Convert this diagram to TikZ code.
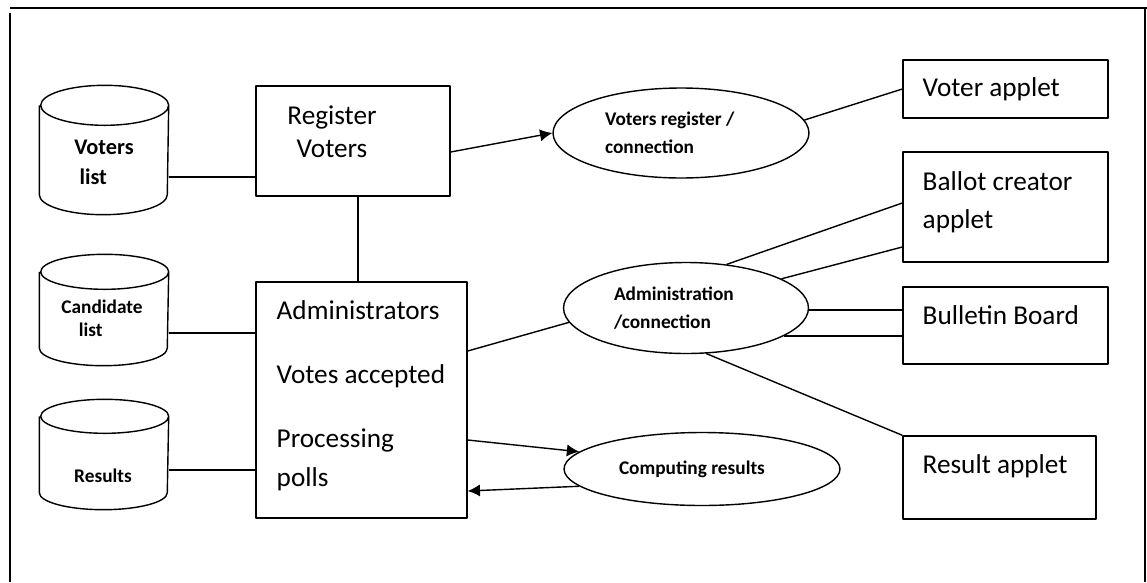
\documentclass[tikz,border=0pt]{standalone}
\usepackage{fontspec}
\setmainfont{Carlito}
\usetikzlibrary{shapes.geometric,arrows.meta}

\begin{document}
\begin{tikzpicture}[x=0.02cm, y=-0.02cm, line width=0.8pt, line join=round, >={Latex[length=7pt,width=7pt]},
	cyl/.style={rectangle, minimum width=2.56cm, inner sep=0pt},
	cyltxt/.style={align=left, inner sep=0pt, font=\bfseries\fontsize{11}{13}\selectfont},
	box/.style={draw, rectangle, inner sep=0pt},
	oval/.style={draw, ellipse, inner sep=0pt, align=flush left, font=\bfseries\fontsize{11}{16}\selectfont},
	txt/.style={anchor=west, align=left, inner sep=0pt, font=\fontsize{15.5}{21.5}\selectfont}]
	\useasboundingbox (0,0) rectangle (1147,582);
	% frame
	\draw[line width=1.1pt] (10,8)--(1147,8) (10,12.5)--(10,582) (1145,8)--(1145,582);
	% data stores
	\node[cyl, minimum height=2.56cm] (vlist) at (104,150) {};
	\node[cyltxt, font=\bfseries\fontsize{12.7}{17}\selectfont] (vlisttxt) at (104,162) {Voters\\\hspace*{3pt}list};
	\node[cyl, minimum height=2.2cm] (clist) at (104,310) {};
	\node[cyltxt] (clisttxt) at (102,318.5) {Candidate\\\hspace*{10pt}list};
	\node[cyl, minimum height=2.18cm] (rlist) at (104,454.5) {};
	\node[cyltxt] (rlisttxt) at (103,476) {Results};
	\foreach \n/\r in {vlist/0.4cm, clist/0.35cm, rlist/0.34cm}
		\draw ([yshift=-\r]\n.north west) -- ([yshift=\r]\n.south west)
			arc[start angle=180, end angle=360, x radius=1.28cm, y radius=\r]
			-- ([yshift=-\r]\n.north east)
			arc[start angle=0, end angle=180, x radius=1.28cm, y radius=\r]
			arc[start angle=180, end angle=360, x radius=1.28cm, y radius=\r];
	% boxes
	\node[box, minimum width=3.88cm, minimum height=2.2cm] (reg) at (353,141) {};
	\node[txt, anchor=center, align=center, font=\fontsize{15.5}{18.5}\selectfont] (regtxt) at (332,131.5) {Register\\Voters};
	\node[box, minimum width=4.22cm, minimum height=4.72cm] (adm) at (361.5,400) {};
	\node[txt, anchor=north west, font=\fontsize{15.5}{22}\selectfont] (admtxt) at (276,300) {Administrators\\[14.5pt]Votes accepted\\[14.5pt]Processing\\polls};
	\node[box, minimum width=4.1cm, minimum height=1.16cm] (voter) at (1005.5,89) {};
	\node[txt] (votertxt) at (922,89) {Voter applet};
	\node[box, minimum width=4.1cm, minimum height=2.2cm] (ballot) at (1005.5,207) {};
	\node[txt] (ballottxt) at (922,202) {Ballot creator\\applet};
	\node[box, minimum width=4.1cm, minimum height=1.54cm] (bull) at (1005.5,325.5) {};
	\node[txt] (bulltxt) at (922,315) {Bulletin Board};
	\node[box, minimum width=3.86cm, minimum height=1.66cm] (resapp) at (999.5,477.5) {};
	\node[txt] (restxt) at (922,466) {Result applet};
	% processes
	\node[oval, minimum width=5.12cm, minimum height=1.8cm, text width=3.04cm] (vreg) at (681,133) {Voters register /\\connection};
	\node[oval, minimum width=4.9cm, minimum height=1.82cm, text width=2.88cm] (admc) at (686,308) {Administration\\/connection};
	\node[oval, minimum width=5.52cm, minimum height=1.46cm, text width=3.32cm] (comp) at (702,469) {Computing results};
	% links
	\draw (vlist.east |- 0,177) -- (reg.west |- 0,177);
	\draw (clist.east |- 0,333) -- (adm.west |- 0,333);
	\draw (rlist.east |- 0,470) -- (adm.west |- 0,470);
	\draw (reg.south -| 358,0) -- (adm.north -| 358,0);
	\draw[->] (reg.east |- 0,152) -- (vreg.west);
	\draw (vreg.6) -- (voter.west);
	\draw (adm.east |- 0,351) -- (admc.187);
	\draw (admc.47) -- (ballot.west |- 0,203);
	\draw (admc.17) -- (ballot.west |- 0,247);
	\draw (admc.east |- 0,310) -- (bull.west |- 0,310);
	\draw (admc.-16) -- (bull.west |- admc.-16);
	\draw (admc.-66) -- (resapp.north west);
	\draw[->] (adm.east |- 0,440) -- (comp.172);
	\draw[->] (comp.188) -- (adm.east |- 0,491);
\end{tikzpicture}
\end{document}
